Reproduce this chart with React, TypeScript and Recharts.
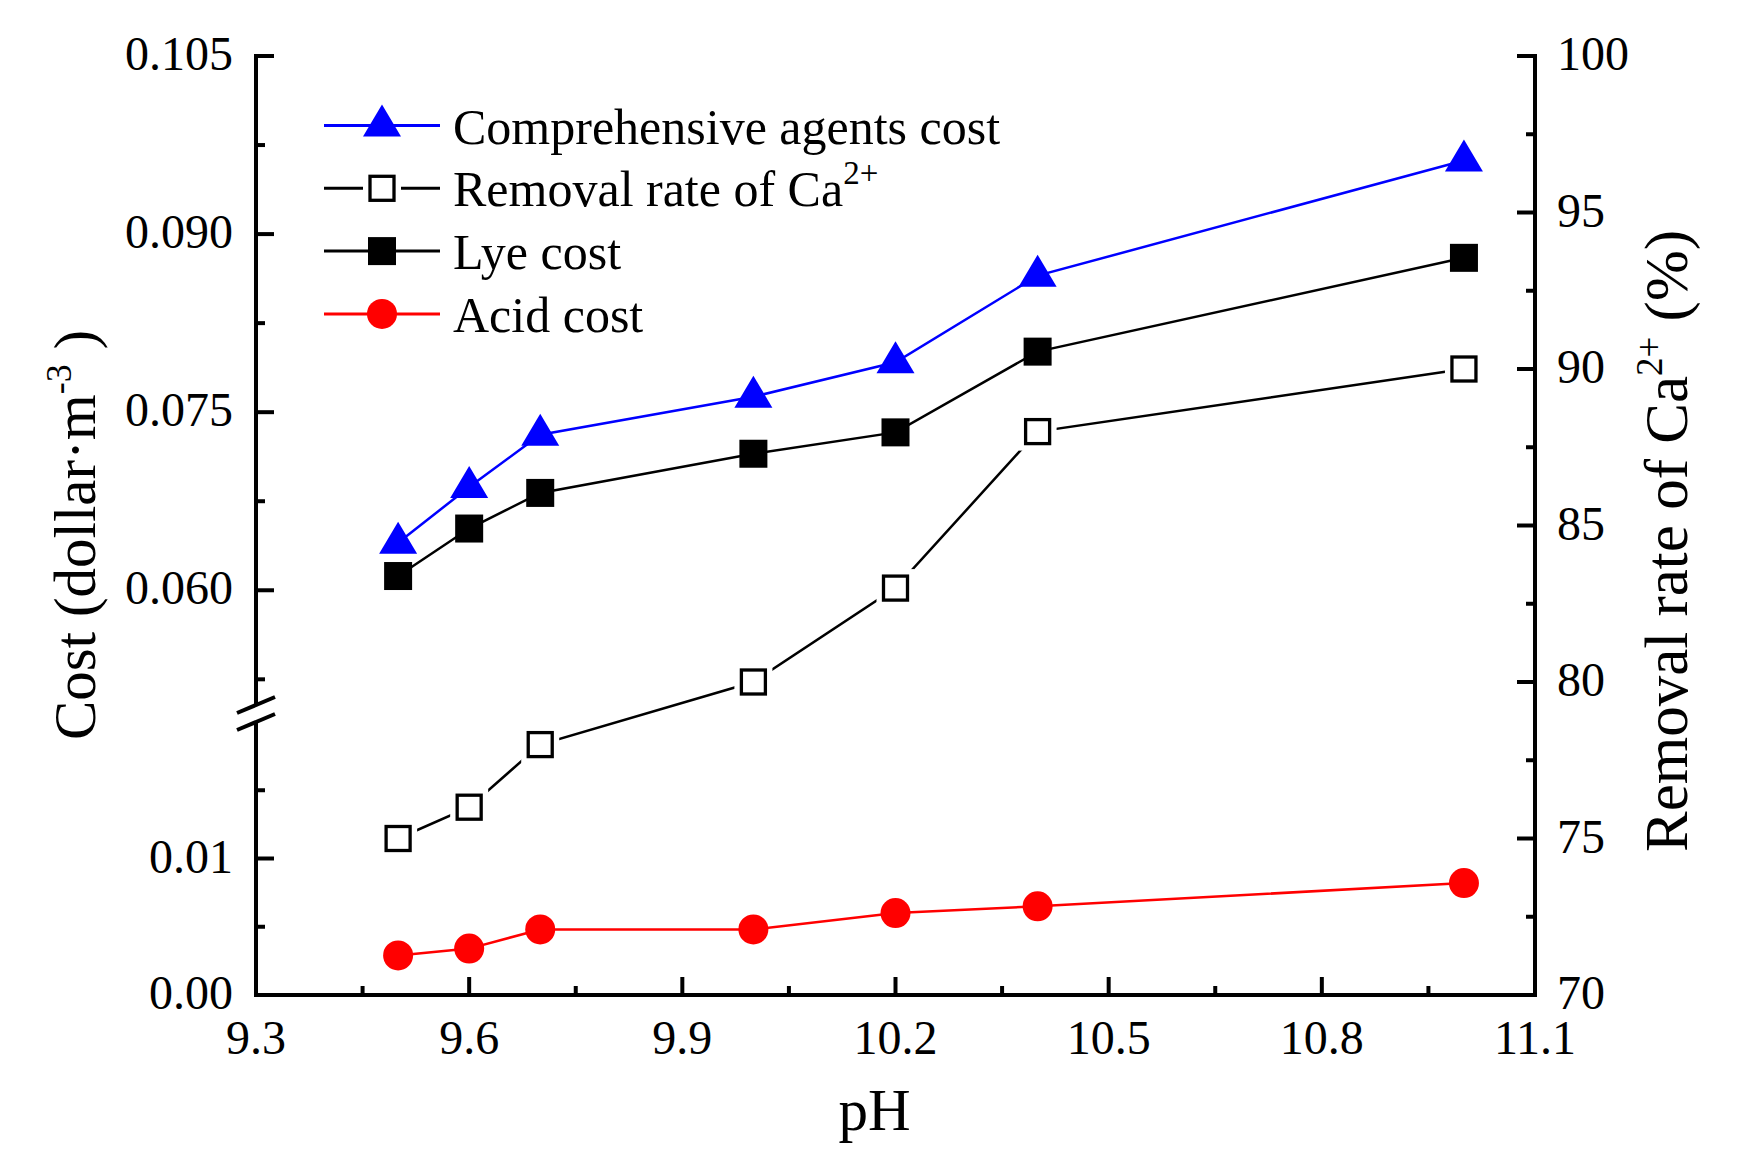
import React from 'react';
import { ComposedChart, Line, XAxis, YAxis, Legend } from 'recharts';

const PH = [9.5, 9.6, 9.7, 10.0, 10.2, 10.4, 11.0];
const COMPREHENSIVE_COST = [0.064, 0.0687, 0.0731, 0.0763, 0.0792, 0.0865, 0.0962];
const LYE_COST = [0.0612, 0.0652, 0.0682, 0.0715, 0.0733, 0.0801, 0.088];
const ACID_COST = [0.0029, 0.0034, 0.0048, 0.0048, 0.006, 0.0065, 0.0082];
const REMOVAL_RATE = [75, 76, 78, 80, 83, 88, 90];

const X_MAJOR = [9.3, 9.6, 9.9, 10.2, 10.5, 10.8, 11.1];
const X_MINOR = [9.45, 9.75, 10.05, 10.35, 10.65, 10.95];
const COST_MAJOR = [0, 0.01, 0.06, 0.075, 0.09, 0.105];
const COST_LABELS = ['0.00', '0.01', '0.060', '0.075', '0.090', '0.105'];
const COST_MINOR = [0.005, 0.015, 0.0525, 0.0675, 0.0825, 0.0975];
const RATE_MAJOR = [70, 75, 80, 85, 90, 95, 100];
const RATE_MINOR = [72.5, 77.5, 82.5, 87.5, 92.5, 97.5];

const FONT = "'Liberation Serif', 'Times New Roman', serif";
const BLUE = '#0000ff';
const RED = '#ff0000';

// cost axis is broken: 0–0.02 below the break, 0.05–0.105 above it.
// axis units run 0..939 (one unit per pixel of plot height)
const LOW = { from: 0, to: 0.02, start: 0, end: 273 };
const HIGH = { from: 0.05, to: 0.105, start: 286, end: 939 };
const BREAK_AT = (LOW.end + HIGH.start) / 2 + 2;

function toAxis(v: number): number {
  const s = v <= LOW.to ? LOW : HIGH;
  return s.start + ((v - s.from) / (s.to - s.from)) * (s.end - s.start);
}

const COST_TICKS = [
  ...COST_MAJOR.map((v, i) => ({ at: toAxis(v), kind: 'major', label: COST_LABELS[i] })),
  ...COST_MINOR.map((v) => ({ at: toAxis(v), kind: 'minor', label: '' })),
  { at: BREAK_AT, kind: 'break', label: '' },
];

const rows = PH.map((ph, i) => ({
  ph,
  comprehensive: toAxis(COMPREHENSIVE_COST[i]),
  lye: toAxis(LYE_COST[i]),
  acid: toAxis(ACID_COST[i]),
  removal: REMOVAL_RATE[i],
}));

const AXIS_LINE = { stroke: '#000', strokeWidth: 4, strokeLinecap: 'square' as const };
const TICK_TEXT = { fontFamily: FONT, fontSize: 48, fill: '#000' };

function PhTick({ x, y, payload }: any) {
  const major = X_MAJOR.includes(payload.value);
  return (
    <g>
      <line x1={x} x2={x} y1={y} y2={y - (major ? 18 : 9)} stroke="#000" strokeWidth={4} />
      {major && (
        <text x={x} y={y + 59} textAnchor="middle" {...TICK_TEXT}>
          {payload.value.toFixed(1)}
        </text>
      )}
    </g>
  );
}

function CostTick({ x, y, payload }: any) {
  const t = COST_TICKS.find((d) => Math.abs(d.at - payload.value) < 0.01);
  if (!t) return null;
  if (t.kind === 'break') {
    return (
      <g>
        <polygon
          points={`${x - 5},${y - 6} ${x + 5},${y - 10} ${x + 5},${y + 6} ${x - 5},${y + 10}`}
          fill="#fff"
        />
        <line x1={x - 19} y1={y - 0.5} x2={x + 19} y2={y - 16.5} stroke="#000" strokeWidth={4} />
        <line x1={x - 19} y1={y + 16.5} x2={x + 19} y2={y + 0.5} stroke="#000" strokeWidth={4} />
      </g>
    );
  }
  const major = t.kind === 'major';
  return (
    <g>
      <line x1={x} x2={x + (major ? 18 : 9)} y1={y} y2={y} stroke="#000" strokeWidth={4} />
      {major && (
        <text x={x - 23} y={y + 14} textAnchor="end" {...TICK_TEXT}>
          {t.label}
        </text>
      )}
    </g>
  );
}

function RateTick({ x, y, payload }: any) {
  const major = RATE_MAJOR.includes(payload.value);
  return (
    <g>
      <line x1={x} x2={x - (major ? 18 : 9)} y1={y} y2={y} stroke="#000" strokeWidth={4} />
      {major && (
        <text x={x + 22} y={y + 14} textAnchor="start" {...TICK_TEXT}>
          {payload.value}
        </text>
      )}
    </g>
  );
}

// markers
function Triangle({ cx, cy, color }: { cx: number; cy: number; color: string }) {
  return <path d={`M${cx},${cy - 21}L${cx + 19},${cy + 11}L${cx - 19},${cy + 11}Z`} fill={color} />;
}
function FilledSquare({ cx, cy }: { cx: number; cy: number }) {
  return <rect x={cx - 14} y={cy - 14} width={28} height={28} fill="#000" />;
}
function OpenSquare({ cx, cy }: { cx: number; cy: number }) {
  return (
    <g>
      <rect x={cx - 19} y={cy - 19} width={38} height={38} fill="#fff" />
      <rect x={cx - 12} y={cy - 12} width={24} height={24} fill="#fff" stroke="#000" strokeWidth={3.3} />
    </g>
  );
}
function Circle({ cx, cy }: { cx: number; cy: number }) {
  return <circle cx={cx} cy={cy} r={15} fill={RED} />;
}

const LEGEND_ROWS = [
  { key: 'comprehensive', name: 'Comprehensive agents cost', sup: '', color: BLUE },
  { key: 'removal', name: 'Removal rate of Ca', sup: '2+', color: '#000' },
  { key: 'lye', name: 'Lye cost', sup: '', color: '#000' },
  { key: 'acid', name: 'Acid cost', sup: '', color: RED },
];

function marker(key: string, cx: number, cy: number) {
  if (key === 'comprehensive') return <Triangle cx={cx} cy={cy} color={BLUE} />;
  if (key === 'removal') return <OpenSquare cx={cx} cy={cy} />;
  if (key === 'lye') return <FilledSquare cx={cx} cy={cy} />;
  return <Circle cx={cx} cy={cy} />;
}

function LegendBox() {
  return (
    <svg width={1000} height={350} style={{ display: 'block' }}>
      {LEGEND_ROWS.map((r, i) => {
        const y = 125.5 + i * 62.8;
        return (
          <g key={r.key}>
            <line x1={324} x2={440} y1={y} y2={y} stroke={r.color} strokeWidth={3} />
            {marker(r.key, 382, y)}
            <text x={453} y={y + 18} fontFamily={FONT} fontSize={50} fill="#000">
              {r.name}
              {r.sup && (
                <tspan dy={-22} fontSize={33}>
                  {r.sup}
                </tspan>
              )}
            </text>
          </g>
        );
      })}
    </svg>
  );
}

function PhTitle({ viewBox }: any) {
  return (
    <text x={viewBox.x + viewBox.width / 2 - 21} y={1130} textAnchor="middle" fontFamily={FONT} fontSize={59} fill="#000">
      pH
    </text>
  );
}

function CostTitle({ viewBox }: any) {
  return (
    <text
      transform={`translate(${viewBox.x + 95}, 535) rotate(-90)`}
      textAnchor="middle"
      fontFamily={FONT}
      fontSize={59}
      fill="#000"
    >
      Cost (dollar·m
      <tspan dy={-24} fontSize={36}>
        -3
      </tspan>
      <tspan dy={24}> )</tspan>
    </text>
  );
}

function RateTitle({ viewBox }: any) {
  return (
    <text
      transform={`translate(${viewBox.x + 152}, 541) rotate(-90)`}
      textAnchor="middle"
      fontFamily={FONT}
      fontSize={61}
      fill="#000"
    >
      Removal rate of Ca
      <tspan dy={-25} fontSize={37}>
        2+
      </tspan>
      <tspan dy={25}> (%)</tspan>
    </text>
  );
}

export default function App() {
  return (
    <div style={{ width: 1739, height: 1161, background: '#fff' }}>
      <style>{'body{margin:0;background:#fff}'}</style>
      <ComposedChart width={1739} height={1161} data={rows} margin={{ top: 56, right: 0, bottom: 0, left: 0 }}>
        <XAxis
          dataKey="ph"
          type="number"
          domain={[9.3, 11.1]}
          ticks={[...X_MAJOR, ...X_MINOR]}
          interval={0}
          height={166}
          tickSize={0}
          tickMargin={0}
          tickLine={false}
          axisLine={AXIS_LINE}
          tick={<PhTick />}
          label={<PhTitle />}
        />
        <XAxis
          xAxisId="top"
          orientation="top"
          dataKey="ph"
          type="number"
          domain={[9.3, 11.1]}
          height={0}
          tick={false}
          tickLine={false}
          axisLine={AXIS_LINE}
        />
        <YAxis
          yAxisId="cost"
          type="number"
          domain={[0, 939]}
          ticks={COST_TICKS.map((t) => t.at)}
          interval={0}
          width={256}
          tickSize={0}
          tickMargin={0}
          tickLine={false}
          axisLine={AXIS_LINE}
          tick={<CostTick />}
          label={<CostTitle />}
        />
        <YAxis
          yAxisId="rate"
          orientation="right"
          type="number"
          domain={[70, 100]}
          ticks={[...RATE_MAJOR, ...RATE_MINOR]}
          interval={0}
          width={204}
          tickSize={0}
          tickMargin={0}
          tickLine={false}
          axisLine={AXIS_LINE}
          tick={<RateTick />}
          label={<RateTitle />}
        />
        <Legend
          layout="vertical"
          align="center"
          verticalAlign="middle"
          wrapperStyle={{ left: 0, top: 0, width: 1000, height: 350 }}
          content={<LegendBox />}
        />
        <Line
          yAxisId="rate"
          dataKey="removal"
          name="Removal rate of Ca2+"
          type="linear"
          stroke="#000"
          strokeWidth={2.5}
          dot={(p: any) => <OpenSquare key={`r${p.index}`} cx={p.cx} cy={p.cy} />}
          activeDot={false}
          isAnimationActive={false}
        />
        <Line
          yAxisId="cost"
          dataKey="comprehensive"
          name="Comprehensive agents cost"
          type="linear"
          stroke={BLUE}
          strokeWidth={2.5}
          dot={(p: any) => <Triangle key={`c${p.index}`} cx={p.cx} cy={p.cy} color={BLUE} />}
          activeDot={false}
          isAnimationActive={false}
        />
        <Line
          yAxisId="cost"
          dataKey="lye"
          name="Lye cost"
          type="linear"
          stroke="#000"
          strokeWidth={2.5}
          dot={(p: any) => <FilledSquare key={`l${p.index}`} cx={p.cx} cy={p.cy} />}
          activeDot={false}
          isAnimationActive={false}
        />
        <Line
          yAxisId="cost"
          dataKey="acid"
          name="Acid cost"
          type="linear"
          stroke={RED}
          strokeWidth={2.5}
          dot={(p: any) => <Circle key={`a${p.index}`} cx={p.cx} cy={p.cy} />}
          activeDot={false}
          isAnimationActive={false}
        />
      </ComposedChart>
    </div>
  );
}
